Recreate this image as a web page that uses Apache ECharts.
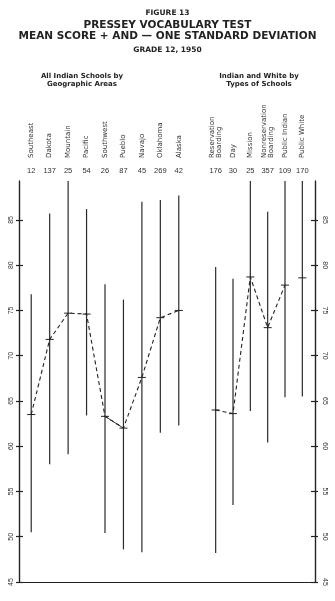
<!DOCTYPE html>
<html>
<head>
<meta charset="utf-8">
<script src="https://cdn.jsdelivr.net/npm/echarts@6/dist/echarts.min.js"></script>
<style>
html, body { margin: 0; padding: 0; background: #fff; }
#chart { width: 335px; height: 601px; }
</style>
</head>
<body>
<div id="chart"></div>
<script>
// All Indian schools by geographic areas
var geoNames = ['Southeast', 'Dakota', 'Mountain', 'Pacific', 'Southwest', 'Pueblo', 'Navajo', 'Oklahoma', 'Alaska'];
var geoCounts = [12, 137, 25, 54, 26, 87, 45, 269, 42];
var geoMeans = [63.5, 71.8, 74.7, 74.6, 63.3, 62.0, 67.6, 74.2, 75.0];
var geoHighs = [76.8, 85.7, 90.3, 86.2, 77.9, 76.2, 87.0, 87.2, 87.7];
var geoLows = [50.5, 58.0, 59.1, 63.4, 50.4, 48.6, 48.3, 61.5, 62.3];

// Indian and white by types of schools
var typeNames = ['Reservation\nBoarding', 'Day', 'Mission', 'Nonreservation\nBoarding', 'Public Indian', 'Public White'];
var typeCounts = [176, 30, 25, 357, 109, 170];
var typeMeans = [64.0, 63.6, 78.7, 73.1, 77.8, 78.6];
var typeHighs = [79.8, 78.5, 93.5, 85.9, 90.2, 91.6];
var typeLows = [48.2, 53.5, 63.9, 60.4, 65.4, 65.5];

var yTicks = [45, 50, 55, 60, 65, 70, 75, 80, 85];
var yMin = 45, yMax = 89.3;

var ink = '#222';
var gridTop = 181, gridBottom = 19;

function renderBar(params, api) {
    var x = api.value(0);
    var lo = api.coord([x, api.value(1)]);
    var hi = api.coord([x, api.value(2)]);
    var m = api.coord([x, api.value(3)]);
    return {
        type: 'group',
        children: [
            { type: 'line', shape: { x1: lo[0], y1: lo[1], x2: hi[0], y2: hi[1] }, style: { stroke: '#2b2b2b', lineWidth: 1.2 } },
            { type: 'line', shape: { x1: m[0] - 4, y1: m[1], x2: m[0] + 4, y2: m[1] }, style: { stroke: ink, lineWidth: 1 } }
        ]
    };
}

function barData(lows, highs, means) {
    return means.map(function (v, i) { return [i, lows[i], highs[i], v]; });
}

function nameAxis(grid, names) {
    return {
        gridIndex: grid, type: 'category', position: 'top', data: names,
        axisLine: { show: false }, axisTick: { show: false }, splitLine: { show: false },
        axisLabel: { interval: 0, rotate: -90, margin: 23, fontSize: 7, lineHeight: 6.5, color: '#333', fontFamily: 'DejaVu Sans' }
    };
}

function countAxis(grid, counts) {
    return {
        gridIndex: grid, type: 'category', position: 'top', data: counts.map(String),
        axisLine: { show: false }, axisTick: { show: false }, splitLine: { show: false },
        axisLabel: { interval: 0, margin: 6, fontSize: 7.5, color: '#333', fontFamily: 'Liberation Sans' }
    };
}

function hiddenY(grid) {
    return { gridIndex: grid, type: 'value', min: yMin, max: yMax, show: false };
}

var frameY = {
    gridIndex: 0, type: 'value', min: yMin, max: yMax,
    axisLine: { show: true, onZero: false, lineStyle: { color: ink, width: 1.2 } },
    splitLine: { show: false }
};

var titleFont = { fontWeight: 'bold', color: ink, fontFamily: 'DejaVu Sans' };

var option = {
    backgroundColor: '#fff',
    animation: false,
    title: [
        { text: 'FIGURE 13', left: 'center', top: 4, textStyle: Object.assign({ fontSize: 7.5 }, titleFont) },
        { text: 'PRESSEY VOCABULARY TEST', left: 'center', top: 15, textStyle: Object.assign({ fontSize: 10.5 }, titleFont) },
        { text: 'MEAN SCORE + AND \u2014 ONE STANDARD DEVIATION', left: 'center', top: 26, textStyle: Object.assign({ fontSize: 10.5 }, titleFont) },
        { text: 'GRADE 12, 1950', left: 'center', top: 41, textStyle: Object.assign({ fontSize: 7.5 }, titleFont) },
        { text: 'All Indian Schools by\nGeographic Areas', left: 77, top: 67, textAlign: 'center', textStyle: Object.assign({ fontSize: 7, lineHeight: 8 }, titleFont) },
        { text: 'Indian and White by\nTypes of Schools', left: 254, top: 67, textAlign: 'center', textStyle: Object.assign({ fontSize: 7, lineHeight: 8 }, titleFont) }
    ],
    grid: [
        { left: 19, right: 20, top: gridTop, bottom: gridBottom },
        { left: 22, width: 166, top: gridTop, bottom: gridBottom },
        { left: 207, width: 104, top: gridTop, bottom: gridBottom }
    ],
    xAxis: [
        {
            gridIndex: 0, type: 'value', min: 0, max: 1, position: 'bottom',
            axisLine: { show: true, onZero: false, lineStyle: { color: ink, width: 1.2 } },
            axisTick: { show: false }, axisLabel: { show: false }, splitLine: { show: false }
        },
        nameAxis(1, geoNames),
        countAxis(1, geoCounts),
        nameAxis(2, typeNames),
        countAxis(2, typeCounts)
    ],
    yAxis: [
        Object.assign({}, frameY, {
            position: 'left',
            axisTick: { show: true, inside: false, length: 3, customValues: yTicks, lineStyle: { color: ink, width: 1.2 } },
            axisLabel: { show: true, rotate: 90, margin: 4, fontSize: 7, color: '#333', fontFamily: 'Liberation Sans', customValues: yTicks }
        }),
        Object.assign({}, frameY, {
            position: 'left',
            axisTick: { show: true, inside: true, length: 4, customValues: yTicks, lineStyle: { color: ink, width: 1.2 } },
            axisLabel: { show: false }
        }),
        Object.assign({}, frameY, {
            position: 'right',
            axisTick: { show: true, inside: false, length: 3, customValues: yTicks, lineStyle: { color: ink, width: 1.2 } },
            axisLabel: { show: true, rotate: -90, margin: 6, fontSize: 7, color: '#333', fontFamily: 'Liberation Sans', customValues: yTicks }
        }),
        Object.assign({}, frameY, {
            position: 'right',
            axisTick: { show: true, inside: true, length: 4, customValues: yTicks, lineStyle: { color: ink, width: 1.2 } },
            axisLabel: { show: false }
        }),
        hiddenY(1),
        hiddenY(2)
    ],
    series: [
        {
            type: 'custom', name: 'Geographic areas', xAxisIndex: 1, yAxisIndex: 4, clip: true,
            renderItem: renderBar, data: barData(geoLows, geoHighs, geoMeans)
        },
        {
            type: 'line', xAxisIndex: 1, yAxisIndex: 4, data: geoMeans, symbol: 'none',
            lineStyle: { color: ink, width: 1.1, type: [4, 3] }, z: 3
        },
        {
            // Southwest to Pueblo is drawn solid in the original
            type: 'line', xAxisIndex: 1, yAxisIndex: 4, symbol: 'none',
            data: geoMeans.map(function (v, i) { return (i === 4 || i === 5) ? v : null; }),
            lineStyle: { color: ink, width: 0.9 }, z: 3
        },
        {
            type: 'custom', name: 'Types of schools', xAxisIndex: 3, yAxisIndex: 5, clip: true,
            renderItem: renderBar, data: barData(typeLows, typeHighs, typeMeans)
        },
        {
            // Public White is not joined to the Indian schools
            type: 'line', xAxisIndex: 3, yAxisIndex: 5, symbol: 'none',
            data: typeMeans.map(function (v, i) { return i < 5 ? v : null; }),
            lineStyle: { color: ink, width: 1.1, type: [4, 3] }, z: 3
        }
    ]
};

var myChart = echarts.init(document.getElementById('chart'));
myChart.setOption(option);
</script>
</body>
</html>
